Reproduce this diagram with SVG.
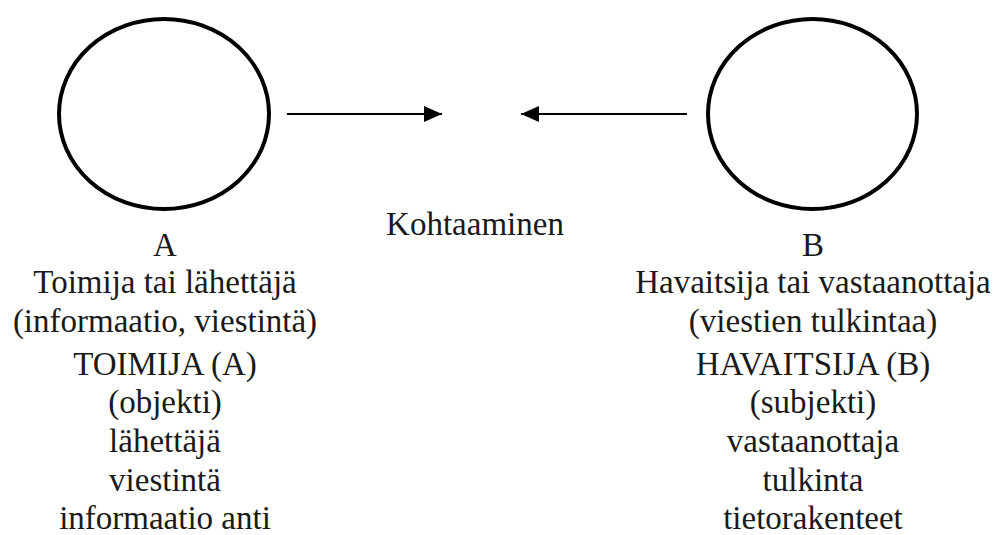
<svg xmlns="http://www.w3.org/2000/svg" width="999" height="535" viewBox="0 0 999 535">
<style>
.node{fill:none;stroke:#000;stroke-width:4}
.lbl{font-family:'Liberation Serif','Times New Roman',serif;font-size:33px;fill:#1a1a1a;text-anchor:middle}
.conn{stroke:#000;stroke-width:2;fill:none}
</style>
<defs>
<marker id="ah" viewBox="0 0 18 16" refX="18" refY="8" markerWidth="18" markerHeight="16" markerUnits="userSpaceOnUse" orient="auto">
<path d="M0,0 L18,8 L0,16 Z" fill="#000"/>
</marker>
</defs>
<rect width="999" height="535" fill="#fff"/>
<g id="nodeA">
<ellipse class="node" cx="164" cy="114" rx="105" ry="95"/>
<text class="lbl" x="165" y="256">A</text>
<text class="lbl" x="165" y="293">Toimija tai lähettäjä</text>
<text class="lbl" x="165" y="332">(informaatio, viestintä)</text>
<text class="lbl" x="165" y="375">TOIMIJA (A)</text>
<text class="lbl" x="165" y="413">(objekti)</text>
<text class="lbl" x="165" y="452">lähettäjä</text>
<text class="lbl" x="165" y="491">viestintä</text>
<text class="lbl" x="165" y="529">informaatio anti</text>
</g>
<g id="nodeB">
<ellipse class="node" cx="812.5" cy="114" rx="104.5" ry="95"/>
<text class="lbl" x="813" y="256">B</text>
<text class="lbl" x="813" y="293">Havaitsija tai vastaanottaja</text>
<text class="lbl" x="813" y="332">(viestien tulkintaa)</text>
<text class="lbl" x="813" y="375">HAVAITSIJA (B)</text>
<text class="lbl" x="813" y="413">(subjekti)</text>
<text class="lbl" x="813" y="452">vastaanottaja</text>
<text class="lbl" x="813" y="491">tulkinta</text>
<text class="lbl" x="813" y="529">tietorakenteet</text>
</g>
<g id="meeting">
<text class="lbl" x="475" y="235">Kohtaaminen</text>
</g>
<g id="connectors">
<line class="conn" x1="287" y1="114" x2="442" y2="114" marker-end="url(#ah)"/>
<line class="conn" x1="687" y1="114" x2="521" y2="114" marker-end="url(#ah)"/>
</g>
</svg>
